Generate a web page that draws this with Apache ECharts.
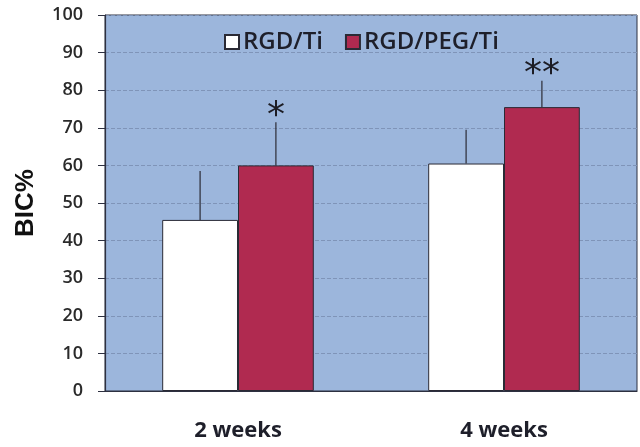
<!DOCTYPE html>
<html lang="en">
<head>
    <meta charset="utf-8">
    <title>BIC%</title>
    <script src="https://cdn.jsdelivr.net/npm/echarts@6/dist/echarts.min.js"></script>
    <style>
        html, body { margin: 0; padding: 0; background: #fff; }
    </style>
</head>
<body>
<div id="main" style="width: 640px;height:447px"></div>
<script>
    // data
    var weeks = ['2 weeks', '4 weeks'];
    var rgdTi = [45.5, 60.5];
    var rgdTiSd = [13, 9];
    var rgdPegTi = [60, 75.5];
    var rgdPegTiSd = [11.5, 7];
    var marks = ['*', '**'];
    var yTicks = [0, 10, 20, 30, 40, 50, 60, 70, 80, 90, 100];

    var catGap = 0.43;

    // upward error bar (no cap) + optional significance mark
    function errRender(side, markList) {
        return function (params, api) {
            var i = api.value(0);
            var top = api.value(1);
            var low = api.value(2);
            var cw = api.size([1, 0])[0];
            var bw = cw * (1 - catGap) / 2;
            var p0 = api.coord([i, low]);
            var p1 = api.coord([i, top]);
            var x = p0[0] + side * bw / 2;
            var kids = [{
                type: 'line',
                shape: { x1: x, y1: p0[1], x2: x, y2: p1[1] },
                style: { stroke: '#2a2a35', lineWidth: 1.2 }
            }];
            if (markList && markList[i]) {
                kids.push({
                    type: 'text',
                    style: {
                        text: markList[i],
                        x: x, y: p1[1] + 12,
                        align: 'center', verticalAlign: 'bottom',
                        font: '36px "DejaVu Sans"', fill: '#1c1c24',
                        letterSpacing: 5
                    }
                });
            }
            return { type: 'group', children: kids };
        };
    }

    var chart = echarts.init(document.getElementById('main'));
    var option = {
        animation: false,
        textStyle: { fontFamily: '"Open Sans", sans-serif' },
        grid: {
            left: 105, right: 3, top: 15, bottom: 56,
            show: true,
            backgroundColor: '#9cb6dc',
            borderColor: '#2d3040',
            borderWidth: 1
        },
        legend: {
            left: 219, top: 25,
            itemWidth: 14, itemHeight: 14, itemGap: 22,
            icon: 'rect',
            textStyle: { fontSize: 24, fontWeight: 600, color: '#1e1f2a', padding: [0, 0, 0, -1] },
            data: ['RGD/Ti', 'RGD/PEG/Ti']
        },
        xAxis: {
            type: 'category',
            data: weeks,
            axisLine: { lineStyle: { color: '#2d3040', width: 1.2 } },
            axisTick: { length: 7, lineStyle: { color: '#2d3040' } },
            axisLabel: { margin: 29, fontSize: 22, fontWeight: 'bold', color: '#1e1f2a' }
        },
        yAxis: {
            type: 'value',
            min: yTicks[0], max: yTicks[yTicks.length - 1], interval: 10,
            name: 'BIC%',
            nameLocation: 'middle',
            nameGap: 66,
            nameTextStyle: { fontSize: 26, fontWeight: 'bold', color: '#111', fontFamily: '"Liberation Sans", Arial' },
            axisLine: { show: true, lineStyle: { color: '#2d3040', width: 1.2 } },
            axisTick: { show: true, length: 7, lineStyle: { color: '#2d3040' } },
            axisLabel: { margin: 22, fontSize: 18, fontWeight: 600, color: '#2a2a2a' },
            splitLine: { lineStyle: { color: '#7f94b8', type: 'dashed', width: 1 } }
        },
        series: [
            {
                name: 'RGD/Ti', type: 'bar', data: rgdTi,
                barGap: 0, barCategoryGap: (catGap * 100) + '%',
                itemStyle: { color: '#ffffff', borderColor: '#2a2a35', borderWidth: 1 }
            },
            {
                name: 'RGD/PEG/Ti', type: 'bar', data: rgdPegTi,
                barGap: 0, barCategoryGap: (catGap * 100) + '%',
                itemStyle: { color: '#b02a50', borderColor: '#2a2a35', borderWidth: 1 }
            },
            {
                type: 'custom', renderItem: errRender(-1, null), z: 1,
                data: rgdTi.map(function (v, i) { return [i, v + rgdTiSd[i], v]; })
            },
            {
                type: 'custom', renderItem: errRender(1, marks), z: 1,
                data: rgdPegTi.map(function (v, i) { return [i, v + rgdPegTiSd[i], v]; })
            }
        ]
    };
    chart.setOption(option);
</script>
</body>
</html>
